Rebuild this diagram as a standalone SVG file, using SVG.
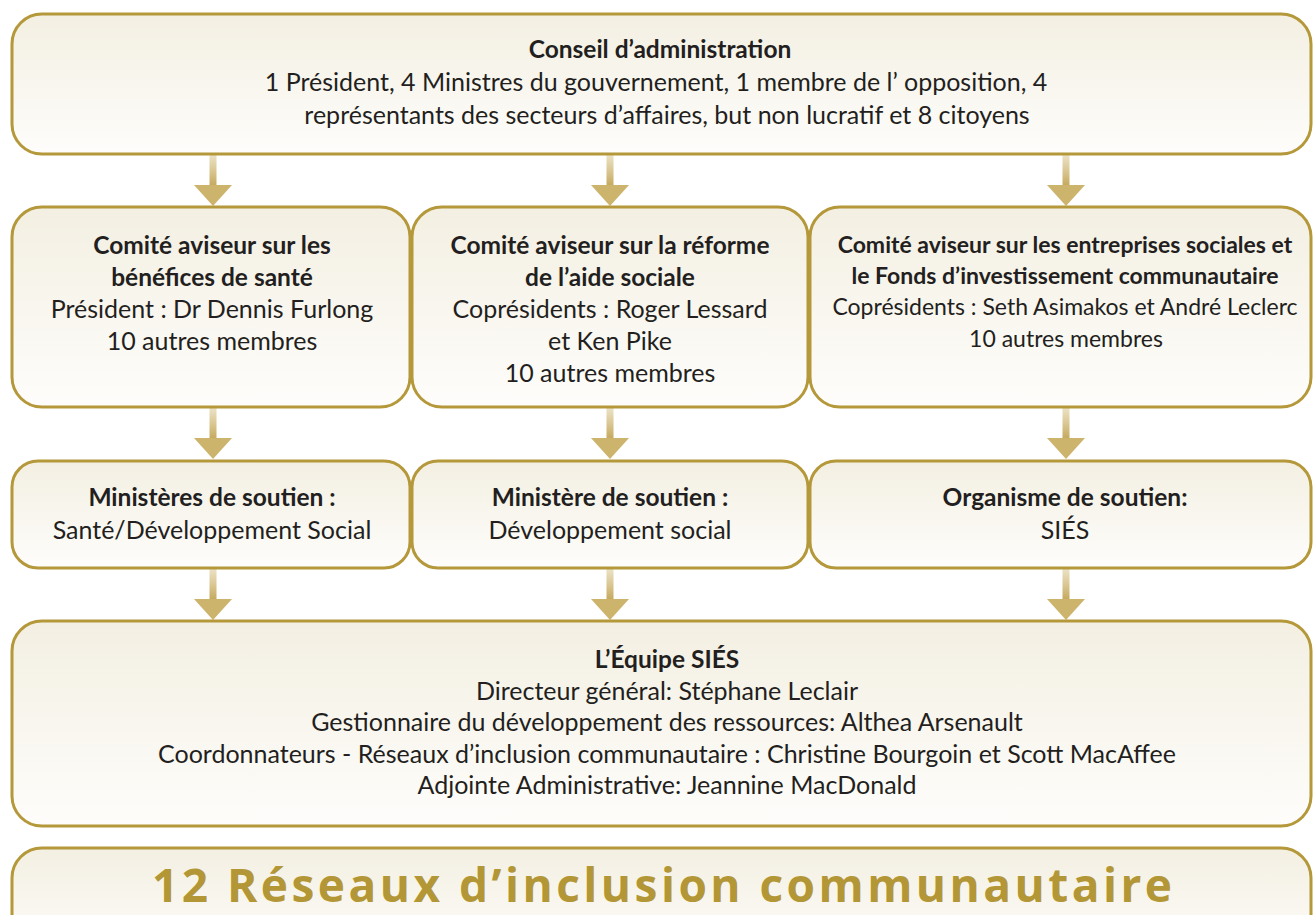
<svg xmlns="http://www.w3.org/2000/svg" width="1313" height="915" viewBox="0 0 1313 915">
<defs>
<linearGradient id="boxfill" x1="0" y1="0" x2="0" y2="1">
<stop offset="0" stop-color="#f3efe2"/>
<stop offset="1" stop-color="#fefdfb"/>
</linearGradient>
<linearGradient id="arrowfill" x1="0" y1="0" x2="0" y2="1">
<stop offset="0" stop-color="#ebe2c6"/>
<stop offset="0.55" stop-color="#d8c48e"/>
<stop offset="1" stop-color="#c4a85c"/>
</linearGradient>
<g id="arrow">
<rect x="-3.5" y="0" width="7" height="31" fill="url(#arrowfill)"/>
<polygon points="-19,30 19,30 0,51" fill="#cdb46c"/>
</g>
</defs>
<style>
.box{fill:url(#boxfill);stroke:#b4983a;stroke-width:3}
.t{font-family:Lato,"Liberation Sans",sans-serif;font-size:25px;fill:#231f20;text-anchor:middle}
.b{font-weight:bold;font-size:24.5px}
.s{font-size:23px}
.big{font-family:"Open Sans",Lato,sans-serif;font-size:46px;font-weight:bold;fill:#b39636;text-anchor:middle}
</style>
<g id="connectors">
<use href="#arrow" x="213" y="155"/>
<use href="#arrow" x="610" y="155"/>
<use href="#arrow" x="1066" y="155"/>
<use href="#arrow" x="213" y="408"/>
<use href="#arrow" x="610" y="408"/>
<use href="#arrow" x="1066" y="408"/>
<use href="#arrow" x="213" y="569"/>
<use href="#arrow" x="610" y="569"/>
<use href="#arrow" x="1066" y="569"/>
</g>
<g id="conseil">
<rect class="box" x="12" y="14" width="1299" height="140" rx="30"/>
<text class="t b" x="660" y="58">Conseil d’administration</text>
<text class="t" x="656" y="91">1 Président, 4 Ministres du gouvernement, 1 membre de l’ opposition, 4</text>
<text class="t" x="667" y="124">représentants des secteurs d’affaires, but non lucratif et 8 citoyens</text>
</g>
<g id="comite-sante">
<rect class="box" x="12" y="207" width="398" height="200" rx="30"/>
<text class="t b" x="212" y="254">Comité aviseur sur les</text>
<text class="t b" x="212" y="286">bénéfices de santé</text>
<text class="t" x="212" y="318">Président : Dr Dennis Furlong</text>
<text class="t" x="212" y="350">10 autres membres</text>
</g>
<g id="comite-aide">
<rect class="box" x="412" y="207" width="396" height="200" rx="30"/>
<text class="t b" x="610" y="254">Comité aviseur sur la réforme</text>
<text class="t b" x="610" y="286">de l’aide sociale</text>
<text class="t" x="610" y="318">Coprésidents : Roger Lessard</text>
<text class="t" x="610" y="350">et Ken Pike</text>
<text class="t" x="610" y="382">10 autres membres</text>
</g>
<g id="comite-entreprises">
<rect class="box" x="810" y="207" width="501" height="200" rx="30"/>
<text class="t b s" x="1065" y="253">Comité aviseur sur les entreprises sociales et</text>
<text class="t b s" x="1065" y="284">le Fonds d’investissement communautaire</text>
<text class="t s" x="1065" y="315">Coprésidents : Seth Asimakos et André Leclerc</text>
<text class="t s" x="1066" y="347">10 autres membres</text>
</g>
<g id="ministeres-sante">
<rect class="box" x="12" y="461" width="398" height="107" rx="26"/>
<text class="t b" x="212" y="506">Ministères de soutien :</text>
<text class="t" x="212" y="539">Santé/Développement Social</text>
</g>
<g id="ministere-social">
<rect class="box" x="412" y="461" width="396" height="107" rx="26"/>
<text class="t b" x="610" y="506">Ministère de soutien :</text>
<text class="t" x="610" y="539">Développement social</text>
</g>
<g id="organisme">
<rect class="box" x="810" y="461" width="501" height="107" rx="26"/>
<text class="t b" x="1065" y="506">Organisme de soutien:</text>
<text class="t" x="1065" y="539">SIÉS</text>
</g>
<g id="equipe">
<rect class="box" x="12" y="621" width="1299" height="205" rx="30"/>
<text class="t b" x="667" y="668">L’Équipe SIÉS</text>
<text class="t" x="667" y="700">Directeur général: Stéphane Leclair</text>
<text class="t" x="667" y="731">Gestionnaire du développement des ressources: Althea Arsenault</text>
<text class="t" x="667" y="763">Coordonnateurs - Réseaux d’inclusion communautaire : Christine Bourgoin et Scott MacAffee</text>
<text class="t" x="667" y="794">Adjointe Administrative: Jeannine MacDonald</text>
</g>
<g id="reseaux">
<rect class="box" x="12" y="848" width="1299" height="110" rx="30"/>
<text class="big" x="662" y="902" textLength="1020" lengthAdjust="spacing">12 Réseaux d’inclusion communautaire</text>
</g>
</svg>
